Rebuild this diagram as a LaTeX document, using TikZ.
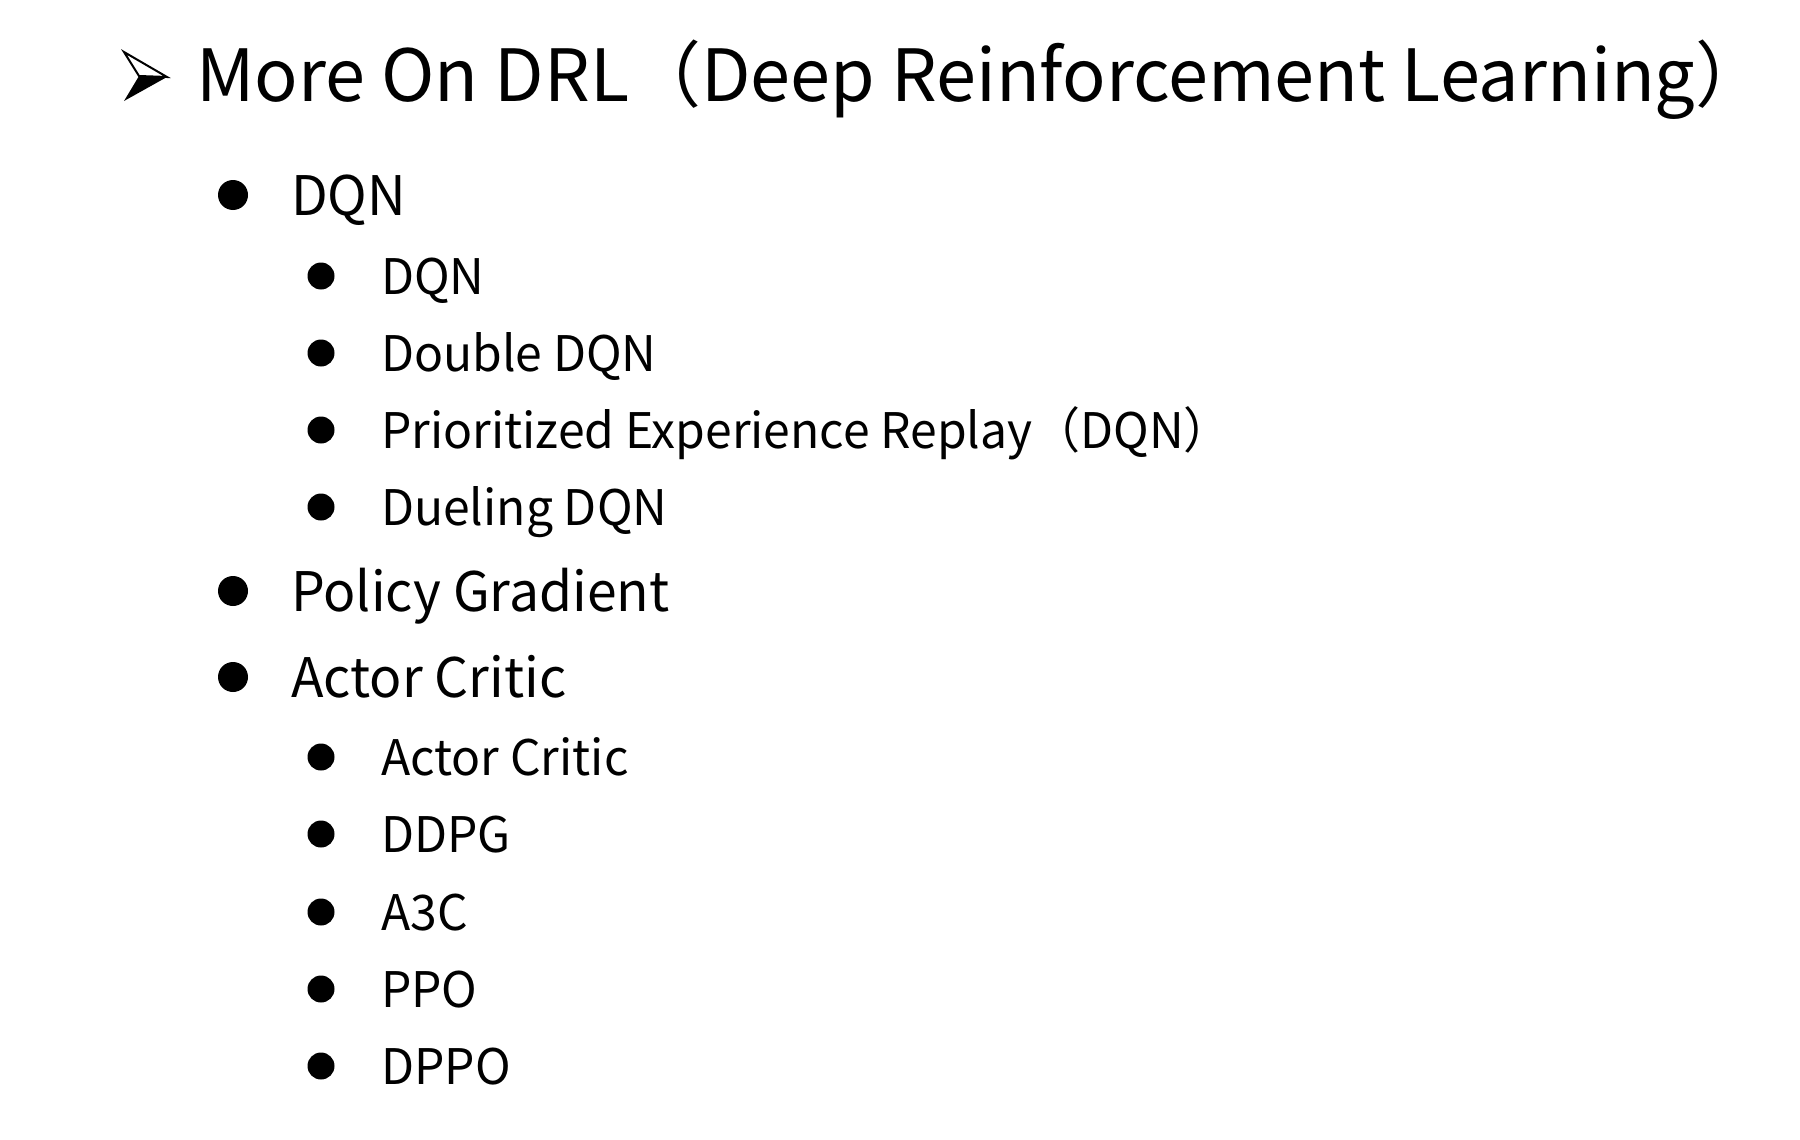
\documentclass[tikz,border=0pt]{standalone}
\usepackage{fontspec}
\setmainfont{Noto Sans CJK SC}
\newfontfamily\itemfont[FakeStretch=0.98]{Noto Sans CJK SC}
\begin{document}
\begin{tikzpicture}[x=1pt,y=-1pt,
  titletext/.style={anchor=base west,inner sep=0pt,font=\fontsize{72}{80}\selectfont},
  lonetext/.style={anchor=base west,inner sep=0pt,font=\itemfont\fontsize{54.5}{60}\selectfont},
  ltwotext/.style={anchor=base west,inner sep=0pt,font=\itemfont\fontsize{49}{55}\selectfont},
  lonedot/.style={fill=black,draw=none},
  ltwodot/.style={fill=black,draw=none}]
\useasboundingbox[fill=white] (0,0) rectangle (1800,1140);
% title arrow
\coordinate (atl) at (124,52);
\coordinate (atip) at (167,77);
\coordinate (abl) at (124,101);
\coordinate (anotch) at (139,76);
\fill[black] (anotch) -- (atip) -- (abl) -- cycle;
\draw[black,line width=2pt,line join=miter] (anotch) -- (atl) -- (atip) -- cycle;
\node[titletext] (title) at (196,101) {More On DRL（Deep Reinforcement Learning）};
% level one
\fill[lonedot] (233,195) circle (15);
\node[lonetext] (dqn) at (291,215) {DQN};
\fill[lonedot] (233,591) circle (15);
\node[lonetext] (pg) at (291,611) {Policy Gradient};
\fill[lonedot] (233,677) circle (15);
\node[lonetext] (ac) at (291,697) {Actor Critic};
% level two
\foreach \yy/\nm/\txt in {276/a/DQN,353/b/Double DQN,430/c/Prioritized Experience Replay（DQN）,507/d/Dueling DQN,757/e/Actor Critic,834/f/DDPG,912/g/A3C,989/h/PPO,1066/i/DPPO}{
  \fill[ltwodot] (321,\yy) circle (13.5);
  \node[ltwotext] (sub\nm) at (381,\yy+18) {\txt};
}
\end{tikzpicture}
\end{document}
